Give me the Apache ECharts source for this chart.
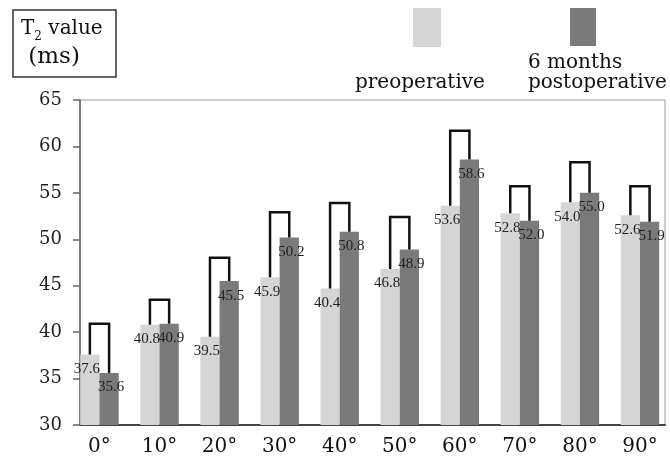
<!DOCTYPE html>
<html>
<head>
<meta charset="utf-8">
<script src="https://cdn.jsdelivr.net/npm/echarts@6/dist/echarts.min.js"></script>
<style>
html,body{margin:0;padding:0;background:#fff;}
#c{width:670px;height:460px;}
</style>
</head>
<body>
<div id="c"></div>
<script>
// ---- data ----
const categories = ['0°','10°','20°','30°','40°','50°','60°','70°','80°','90°'];
const preValues  = [37.6, 40.8, 39.5, 45.9, 44.7, 46.8, 53.6, 52.8, 54.0, 52.6];
const preLabels  = ['37.6','40.8','39.5','45.9','40.4','46.8','53.6','52.8','54.0','52.6'];
const postValues = [35.6, 40.9, 45.5, 50.2, 50.8, 48.9, 58.6, 52.0, 55.0, 51.9];
const postLabels = ['35.6','40.9','45.5','50.2','50.8','48.9','58.6','52.0','55.0','51.9'];
const bracketTops = [40.9, 43.5, 48.0, 52.9, 53.9, 52.4, 61.7, 55.7, 58.3, 55.7];
const yTicks = {min: 30, max: 65, interval: 5};
const seriesNames = ['preoperative', '6 months postoperative'];

const SERIF = 'DejaVu Serif';
const LIGHT = '#d5d5d5';
const DARK = '#7a7a7a';

const chart = echarts.init(document.getElementById('c'), null, {renderer: 'canvas'});

const bracketData = categories.map((c, i) => [i, bracketTops[i], preValues[i], postValues[i]]);

const option = {
  animation: false,
  backgroundColor: '#fff',
  title: [
    {
      text: '{a|T}{s|2}{a| value}\n{b| (ms)}',
      left: 13, top: 6,
      padding: [9, 14, 9, 8],
      borderColor: '#333', borderWidth: 1.5,
      textStyle: {
        fontWeight: 'normal',
        rich: {
          a: {fontFamily: SERIF, fontSize: 20, lineHeight: 28, color: '#111', fontWeight: 'normal'},
          s: {fontFamily: SERIF, fontSize: 12, lineHeight: 12, verticalAlign: 'bottom', color: '#111', fontWeight: 'normal'},
          b: {fontFamily: SERIF, fontSize: 23, lineHeight: 28, color: '#111', fontWeight: 'normal'}
        }
      }
    },
    {
      text: 'preoperative',
      left: 355, top: 73, padding: 0,
      textStyle: {fontFamily: SERIF, fontSize: 20, lineHeight: 20, fontWeight: 'normal', color: '#111'}
    },
    {
      text: '6 months\npostoperative',
      left: 528, top: 53, padding: 0,
      textStyle: {fontFamily: SERIF, fontSize: 20, lineHeight: 20, fontWeight: 'normal', color: '#111'}
    }
  ],
  legend: [
    {data: [seriesNames[0]], left: 413, top: 8, padding: 0, itemWidth: 28, itemHeight: 39,
     icon: 'rect', selectedMode: false, formatter: () => '', textStyle: {fontSize: 1}},
    {data: [seriesNames[1]], left: 570, top: 8, padding: 0, itemWidth: 26, itemHeight: 38,
     icon: 'rect', selectedMode: false, formatter: () => '', textStyle: {fontSize: 1}}
  ],
  grid: [
    {left: 69.45, top: 100, width: 611, height: 325, show: false},
    {left: 80, top: 100, width: 585, height: 325, show: true, borderColor: '#999', borderWidth: 1, backgroundColor: 'transparent', z: 0}
  ],
  xAxis: [
    {
      type: 'category', gridIndex: 0, data: categories, boundaryGap: true,
      axisLine: {show: false}, axisTick: {show: false},
      axisLabel: {fontFamily: SERIF, fontSize: 20, color: '#111', margin: 12}
    },
    {
      type: 'value', gridIndex: 1, min: 0, max: 1,
      axisLine: {show: true, lineStyle: {color: '#444', width: 2}},
      axisTick: {show: false}, axisLabel: {show: false}, splitLine: {show: false}
    }
  ],
  yAxis: [
    {type: 'value', gridIndex: 0, min: yTicks.min, max: yTicks.max, interval: yTicks.interval, show: false, splitLine: {show: false}},
    {
      type: 'value', gridIndex: 1, min: yTicks.min, max: yTicks.max, interval: yTicks.interval,
      axisLine: {show: true, lineStyle: {color: '#666', width: 1.5}},
      axisTick: {show: true, length: 7, lineStyle: {color: '#666', width: 1.5}},
      axisLabel: {fontFamily: SERIF, fontSize: 18, color: '#222', margin: 18},
      splitLine: {show: false}
    }
  ],
  series: [
    {
      name: seriesNames[0], type: 'bar', xAxisIndex: 0, yAxisIndex: 0,
      data: preValues, barWidth: '32%', barGap: '0%',
      itemStyle: {color: LIGHT},
      label: {show: true, position: 'insideTop', distance: 7, offset: [-3, 0],
               formatter: p => preLabels[p.dataIndex],
               fontFamily: 'Liberation Serif', fontSize: 15, color: '#222'}
    },
    {
      name: seriesNames[1], type: 'bar', xAxisIndex: 0, yAxisIndex: 0,
      data: postValues, barWidth: '32%', barGap: '0%',
      itemStyle: {color: DARK},
      label: {show: true, position: 'insideTop', distance: 7, offset: [2, 0],
               formatter: p => postLabels[p.dataIndex],
               fontFamily: 'Liberation Serif', fontSize: 15, color: '#222'}
    },
    {
      name: 'brackets', type: 'custom', xAxisIndex: 0, yAxisIndex: 0,
      data: bracketData, encode: {x: 0, y: 1}, z: 3, silent: true,
      renderItem: function (params, api) {
        const i = api.value(0);
        const band = api.size([1, 0])[0];
        const top = api.coord([i, api.value(1)]);
        const yl = api.coord([i, api.value(2)])[1];
        const yr = api.coord([i, api.value(3)])[1];
        const xl = top[0] - band * 0.16;
        const xr = top[0] + band * 0.16;
        return {
          type: 'polyline',
          shape: {points: [[xl, yl], [xl, top[1]], [xr, top[1]], [xr, yr]]},
          style: {stroke: '#111', lineWidth: 2.5, fill: null}
        };
      }
    }
  ]
};
chart.setOption(option);
</script>
</body>
</html>
